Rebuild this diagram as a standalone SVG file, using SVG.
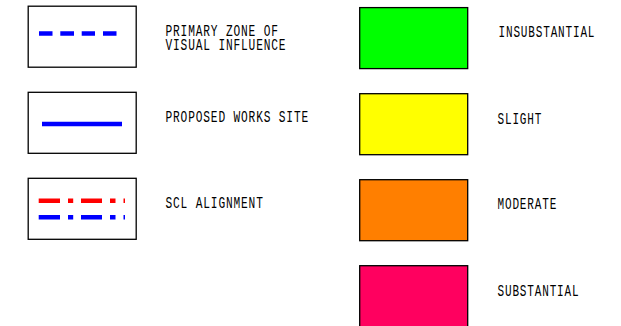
<svg xmlns="http://www.w3.org/2000/svg" width="621" height="326" viewBox="0 0 621 326">
<style>
.box{stroke:#000;stroke-width:1.3}
.plain{fill:#fff}
.line{fill:none;stroke-width:4.4}
.blue{stroke:#0000ff}
.red{stroke:#ff0000}
text{font-family:"Liberation Mono",monospace;font-size:16px;letter-spacing:1.2px;fill:#000}
</style>
<rect width="621" height="326" fill="#fff"/>
<g id="primary-zone">
<rect class="box plain" x="28.2" y="6.2" width="108" height="61"/>
<path class="line blue" d="M39 33.5H52.5M60.3 33.5H74M81.7 33.5H95M103 33.5H116.5"/>
<text transform="translate(165.5 36) scale(.7 1)"><tspan x="0" y="0">PRIMARY ZONE OF</tspan><tspan x="0" y="14.5">VISUAL INFLUENCE</tspan></text>
</g>
<g id="works-site">
<rect class="box plain" x="28.2" y="92.3" width="108" height="61"/>
<path class="line blue" d="M42 124H122"/>
<text transform="translate(165.5 122.3) scale(.7 1)">PROPOSED WORKS SITE</text>
</g>
<g id="scl-alignment">
<rect class="box plain" x="28.2" y="178.3" width="108" height="61"/>
<path class="line red" d="M38.7 200.7H60M68 200.7H73.2M81 200.7H102M110 200.7H115.5M123.5 200.7H125"/>
<path class="line blue" d="M38.7 217.3H60M68 217.3H73.2M81 217.3H102M110 217.3H115.5M123.5 217.3H125"/>
<text transform="translate(165.5 208.3) scale(.7 1)">SCL ALIGNMENT</text>
</g>
<g id="insubstantial">
<rect class="box" fill="#00ff00" x="359.7" y="7.6" width="108" height="61"/>
<text transform="translate(498.5 37.3) scale(.69 1)">INSUBSTANTIAL</text>
</g>
<g id="slight">
<rect class="box" fill="#ffff00" x="359.7" y="93.7" width="108" height="61"/>
<text transform="translate(497.5 123.5) scale(.69 1)">SLIGHT</text>
</g>
<g id="moderate">
<rect class="box" fill="#ff7f00" x="359.7" y="179.7" width="108" height="61"/>
<text transform="translate(497.5 209.3) scale(.69 1)">MODERATE</text>
</g>
<g id="substantial">
<rect class="box" fill="#ff005f" x="359.7" y="265.7" width="108" height="61"/>
<text transform="translate(497.5 296) scale(.69 1)">SUBSTANTIAL</text>
</g>
</svg>
